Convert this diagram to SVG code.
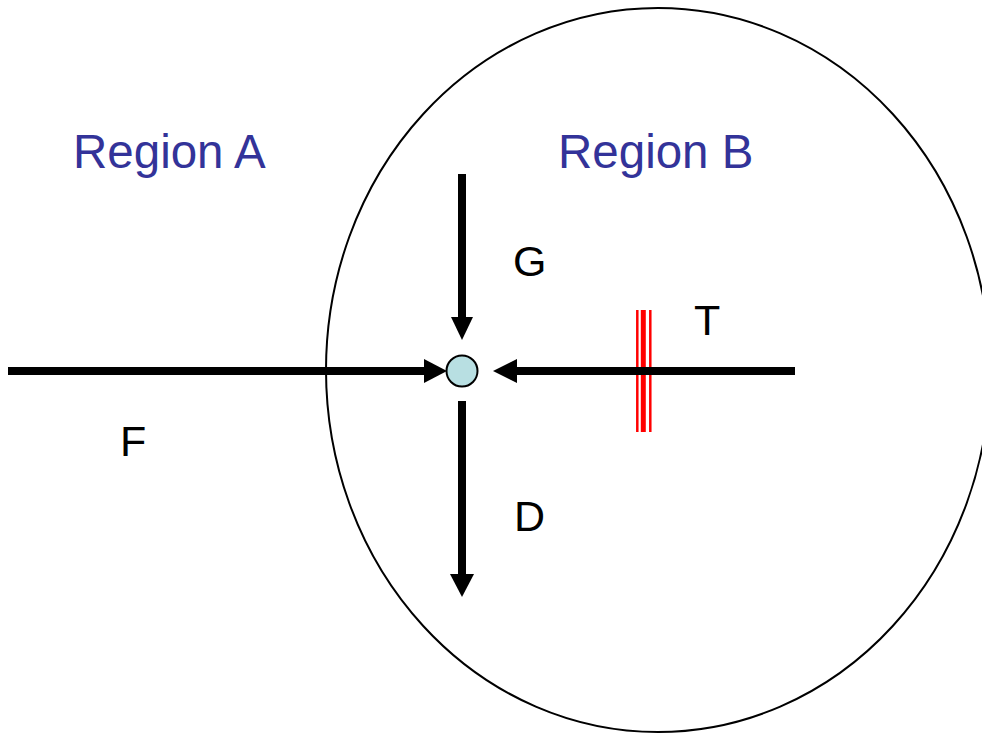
<svg xmlns="http://www.w3.org/2000/svg" width="982" height="733" viewBox="0 0 982 733">
<style>
.region{font-family:"Liberation Sans",Arial,sans-serif;font-size:47.5px;fill:#333399}
.lbl{font-family:"Liberation Sans",Arial,sans-serif;font-size:43px;fill:#000}
.flow{stroke:#000;stroke-width:8;fill:none}
.red{stroke:#ff0000;fill:none}
</style>
<rect width="982" height="733" fill="#fff"/>
<g id="regionB-boundary">
<ellipse cx="658" cy="370" rx="332" ry="362" fill="none" stroke="#000" stroke-width="2"/>
</g>
<g id="labels">
<text class="region" x="73" y="168">Region A</text>
<text class="region" x="558" y="168">Region B</text>
</g>
<g id="connectors">
<line class="flow" x1="8" y1="371" x2="426" y2="371"/>
<polygon points="424,359 447,371 424,383" fill="#000"/>
<g id="red-bars">
<line class="red" x1="637.3" y1="310" x2="637.3" y2="432" stroke-width="2.5"/>
<line class="red" x1="643.3" y1="310" x2="643.3" y2="432" stroke-width="5"/>
<line class="red" x1="650.3" y1="310" x2="650.3" y2="432" stroke-width="2.5"/>
</g>
<line class="flow" x1="795" y1="371" x2="515" y2="371"/>
<polygon points="517,359 493,371 517,383" fill="#000"/>
<line class="flow" x1="462" y1="174" x2="462" y2="320"/>
<polygon points="451,317 473,317 462,340" fill="#000"/>
<line class="flow" x1="462" y1="401" x2="462" y2="576"/>
<polygon points="450,574 474,574 462,597" fill="#000"/>
</g>
<g id="node-junction">
<circle cx="462" cy="371" r="15.5" fill="#b8dfe2" stroke="#000" stroke-width="2"/>
</g>
<g id="flow-labels">
<text class="lbl" x="513" y="276">G</text>
<text class="lbl" x="694" y="335">T</text>
<text class="lbl" x="120" y="456">F</text>
<text class="lbl" x="514" y="531">D</text>
</g>
</svg>
